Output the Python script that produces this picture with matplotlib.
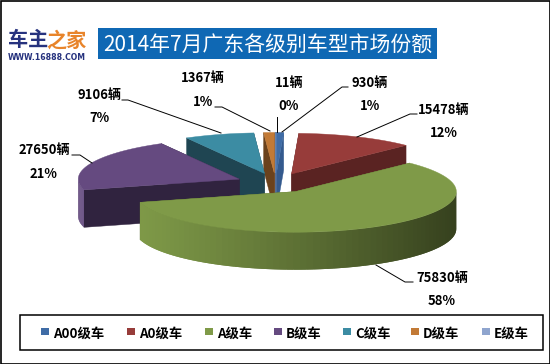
import numpy as np
import matplotlib
matplotlib.use("Agg")
import matplotlib.pyplot as plt
from matplotlib.patches import Polygon, Rectangle
from matplotlib.colors import to_rgb

plt.rcParams['font.family'] = ['Noto Sans CJK SC', 'DejaVu Sans']

categories = ['A00级车', 'A0级车', 'A级车', 'B级车', 'C级车', 'D级车', 'E级车']
units = [930, 15478, 75830, 27650, 9106, 1367, 11]
percents = ['1%', '12%', '58%', '21%', '7%', '1%', '0%']
top_colors = ['#3F6CA6', '#973C3A', '#7F9A48', '#654A80', '#3C8CA3', '#C27A36', '#8FA5CE']
cut_colors = ['#345A8E', '#5A2322', '#5A6E32', '#30233F', '#1F4552', '#6B421C', '#5F7194']
rim_left = ['#3F6CA6', '#973C3A', '#7F9A48', '#654A80', '#3C8CA3', '#C27A36', '#8FA5CE']
rim_right = ['#2A4A73', '#5A2322', '#36411E', '#4A3560', '#1F4552', '#6B421C', '#5F7194']
title = '2014年7月广东各级别车型市场份额'

CX, CY, RX, RY, DEPTH, EXPLODE = 275.6, 183.0, 161.0, 40.6, 37.5, 0.245

fig = plt.figure(figsize=(5.5, 3.64), dpi=100)
ax = fig.add_axes([0, 0, 1, 1])
ax.set_xlim(0, 550)
ax.set_ylim(364, 0)
ax.axis('off')

ax.add_patch(Rectangle((0.5, 0.5), 549, 363, fc='white', ec='black', lw=1.2, zorder=0))

total = sum(units)
edges = np.concatenate([[0], np.cumsum(units)]) / total * 360.0


def point(c, deg, r=1.0):
    a = np.radians(deg)
    return c[0] + r * RX * np.sin(a), c[1] - r * RY * np.cos(a)


def slice_center(i):
    mid = (edges[i] + edges[i + 1]) / 2
    return point((CX, CY), mid, EXPLODE)


def draw_slice(i, z):
    c = slice_center(i)
    a0, a1 = edges[i], edges[i + 1]
    cut = cut_colors[i]
    p0 = point(c, a0)
    p1 = point(c, a1)
    # radial cut faces
    ax.add_patch(Polygon([c, p0, (p0[0], p0[1] + DEPTH), (c[0], c[1] + DEPTH)],
                         fc=cut, ec=cut, lw=0.3, zorder=z))
    ax.add_patch(Polygon([c, p1, (p1[0], p1[1] + DEPTH), (c[0], c[1] + DEPTH)],
                         fc=cut, ec=cut, lw=0.3, zorder=z))
    # outer rim with a horizontal gradient; each quad runs under the next one
    lo, hi = max(a0, 90), min(a1, 270)
    if hi > lo:
        grid = np.linspace(lo, hi, 70)
        left, right = np.array(to_rgb(rim_left[i])), np.array(to_rgb(rim_right[i]))
        for k, s in enumerate(grid[:-1]):
            e = grid[min(k + 2, len(grid) - 1)]
            ps, pe = point(c, s), point(c, e)
            t = np.clip((ps[0] - (c[0] - RX)) / (2 * RX), 0, 1)
            col = left + (right - left) * t ** 1.15
            ax.add_patch(Polygon([ps, pe, (pe[0], pe[1] + DEPTH), (ps[0], ps[1] + DEPTH)],
                                 fc=col, ec='none', lw=0, zorder=z + 0.1 + 0.001 * k * 0 + 0.1 * (k / len(grid))))
    # top face
    arc = np.linspace(a0, a1, 120)
    xy = [c] + [point(c, d) for d in arc]
    ax.add_patch(Polygon(xy, fc=top_colors[i], ec=top_colors[i], lw=0.3, zorder=z + 0.5))


for z, i in enumerate([6, 5, 4, 0, 1, 3, 2]):
    draw_slice(i, 2 + z)

# title and logo
ax.add_patch(Rectangle((98, 28), 339, 31, fc='#0F68B4', ec='none', zorder=20))
ax.text(267.5, 44.5, title, color='white', fontsize=15, ha='center', va='center', zorder=21)
ax.text(8, 40, '车主', color='#26327E', fontsize=14.5, fontweight='bold', ha='left', va='center', zorder=21)
ax.text(46.5, 40, '之家', color='#E8842A', fontsize=14.5, fontweight='bold', ha='left', va='center', zorder=21)
ax.text(8, 57.5, 'WWW.16888.COM', color='#26327E', fontsize=5.6, fontweight='bold',
        family='DejaVu Sans', ha='left', va='center', zorder=21)

# data labels: x of text, y of unit text, y of percent text, leader end points
label_pos = [(370, 83, 106), (444, 110, 133), (442, 278, 301), (44, 150, 174),
             (99, 95, 118), (203, 78, 102), (289, 83, 106)]
leaders = [[(348, 87), (342, 87), (282, 132)],
           [(417, 114), (410, 114), (357, 137)],
           [(413, 282), (405, 282), (376, 265)],
           [(72, 155), (80, 155), (92, 163)],
           [(122, 100), (128, 100), (221, 133)],
           [(215, 107), (222, 107), (270, 131)],
           [(277, 117), (277, 124), (277, 132)]]
for i, (x, y1, y2) in enumerate(label_pos):
    ax.text(x, y1, f'{units[i]}辆', fontsize=9.4, fontweight='bold', ha='center', va='center',
            color='black', zorder=22)
    ax.text(x, y2, percents[i], fontsize=9.4, fontweight='bold', ha='center', va='center',
            color='black', zorder=22)
    xs, ys = zip(*leaders[i])
    ax.plot(xs, ys, color='black', lw=0.7, zorder=22)

# legend
ax.add_patch(Rectangle((19.5, 314.5), 523, 35, fc='white', ec='black', lw=1.1, zorder=20))
leg_x = [41, 127, 205, 274, 343, 411, 482]
for i, x in enumerate(leg_x):
    ax.add_patch(Rectangle((x, 328), 8, 7, fc=top_colors[i], ec='none', zorder=21))
    ax.text(x + 12, 334, categories[i], fontsize=9.6, fontweight='bold', ha='left', va='center', zorder=21)

fig.savefig('out.png', dpi=100)
